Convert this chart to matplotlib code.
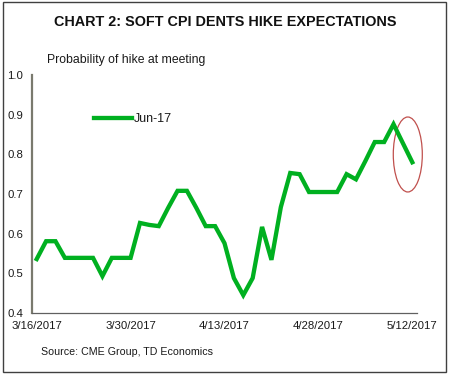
import matplotlib
matplotlib.use("Agg")
import matplotlib.pyplot as plt
from matplotlib.patches import Ellipse, Rectangle

plt.rcParams['font.family'] = ['Liberation Sans', 'DejaVu Sans']

# Data: probability of June 2017 hike, business days 3/16/2017 - 5/12/2017
values = [0.536, 0.581, 0.581, 0.539, 0.539, 0.539, 0.539, 0.493, 0.539, 0.539,
          0.539, 0.627, 0.622, 0.619, 0.665, 0.708, 0.708, 0.665, 0.619, 0.619,
          0.576, 0.488, 0.445, 0.488, 0.617, 0.534, 0.667, 0.753, 0.750, 0.705,
          0.705, 0.705, 0.705, 0.750, 0.737, 0.783, 0.831, 0.831, 0.876, 0.828,
          0.780]
tick_positions = [0, 10, 20, 30, 40]
tick_labels = ["3/16/2017", "3/30/2017", "4/13/2017", "4/28/2017", "5/12/2017"]
y_ticks = [0.4, 0.5, 0.6, 0.7, 0.8, 0.9, 1.0]
series_name = "Jun-17"

fig = plt.figure(figsize=(4.5, 3.74), dpi=100)
ax = fig.add_axes([32/450, 1-313/374, (417-32)/450, (313-75)/374])

x = list(range(len(values)))
ax.plot(x, values, color='#00B020', lw=3.1, solid_joinstyle='miter', label=series_name)

ax.set_xlim(-0.5, len(values) - 0.5)
ax.set_ylim(0.4, 1.0)
ax.set_yticks(y_ticks)
ax.set_yticklabels([f"{v:.1f}" for v in y_ticks])
ax.set_xticks(tick_positions)
ax.set_xticklabels(tick_labels)
ax.tick_params(axis='both', length=0, labelsize=8.2, colors='#1a1a1a')
ax.tick_params(axis='y', pad=6.5)
ax.tick_params(axis='x', pad=6)

for s in ['top', 'right']:
    ax.spines[s].set_visible(False)
ax.spines['left'].set_color('#7a7a6e')
ax.spines['left'].set_linewidth(1.6)
ax.spines['bottom'].set_color('#606060')
ax.spines['bottom'].set_linewidth(0.9)

# annotation ellipse around last points
ell = Ellipse((39.52, 0.7996), width=3.09, height=0.189, fill=False,
              edgecolor='#C0504D', lw=0.9, clip_on=False)
ax.add_patch(ell)

leg = ax.legend(loc='center left', bbox_to_anchor=((94-32)/385, (313-119)/238),
                frameon=False, fontsize=9, handlelength=3.0, handletextpad=0.15,
                borderpad=0, borderaxespad=0)
for t in leg.get_texts():
    t.set_color('#1a1a1a')

fig.text(225/450, 1-22/374, "CHART 2: SOFT CPI DENTS HIKE EXPECTATIONS",
         ha='center', va='center', fontsize=10.4, fontweight='bold', color='#111111')
fig.text(47/450, 1-60/374, "Probability of hike at meeting", ha='left', va='center',
         fontsize=8.8, color='#1a1a1a')
fig.text(41/450, 1-352/374, "Source: CME Group, TD Economics", ha='left', va='center',
         fontsize=7.7, color='#1a1a1a')

fig.patches.append(Rectangle((3/450, 1-372/374), (446-3)/450, (372-2)/374,
                             transform=fig.transFigure, fill=False,
                             edgecolor='#404040', lw=1.0))

fig.savefig("out.png", dpi=100)
